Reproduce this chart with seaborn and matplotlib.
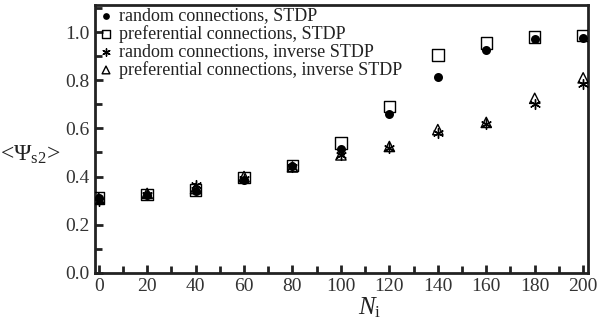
import matplotlib
matplotlib.use("Agg")
import matplotlib.pyplot as plt
import seaborn as sns
import numpy as np
import pandas as pd
from matplotlib.ticker import MultipleLocator, FormatStrFormatter

# data
N_i = [0, 20, 40, 60, 80, 100, 120, 140, 160, 180, 200]
rand_stdp = [0.31, 0.325, 0.34, 0.385, 0.445, 0.515, 0.66, 0.815, 0.925, 0.97, 0.975]
pref_stdp = [0.31, 0.325, 0.345, 0.395, 0.445, 0.54, 0.69, 0.905, 0.955, 0.98, 0.985]
rand_inv = [0.30, 0.325, 0.365, 0.39, 0.44, 0.49, 0.52, 0.58, 0.62, 0.70, 0.785]
pref_inv = [0.31, 0.33, 0.35, 0.40, 0.44, 0.49, 0.525, 0.595, 0.625, 0.725, 0.81]
labels = ["random connections, STDP", "preferential connections, STDP",
          "random connections, inverse STDP", "preferential connections, inverse STDP"]

sns.set_style("ticks")
plt.rcParams["font.family"] = ["Liberation Serif", "DejaVu Serif"]
plt.rcParams["mathtext.fontset"] = "custom"
plt.rcParams["mathtext.rm"] = "Liberation Serif"
plt.rcParams["mathtext.it"] = "Liberation Serif:italic"

fig = plt.figure(figsize=(6, 3.21), dpi=100)
ax = fig.add_axes([0.158, 0.15, 0.822, 0.834])

sns.scatterplot(x=N_i, y=rand_stdp, ax=ax, marker="o", s=42, color="black",
                edgecolor="black", linewidth=0, label=labels[0], zorder=4)
sns.scatterplot(x=N_i, y=pref_stdp, ax=ax, marker="s", s=68, facecolor="none",
                edgecolor="black", linewidth=1.0, label=labels[1], zorder=3)
sns.scatterplot(x=N_i, y=rand_inv, ax=ax, marker=(6, 2, 0), s=50, color="black",
                linewidth=1.0, label=labels[2], zorder=3)
sns.scatterplot(x=N_i, y=pref_inv, ax=ax, marker="^", s=55, facecolor="none",
                edgecolor="black", linewidth=1.0, label=labels[3], zorder=3)

ax.set_xlim(-1.6, 202)
ax.set_ylim(0, 1.112)
ax.xaxis.set_major_locator(MultipleLocator(20))
ax.xaxis.set_minor_locator(MultipleLocator(10))
ax.yaxis.set_major_locator(MultipleLocator(0.2))
ax.yaxis.set_minor_locator(MultipleLocator(0.1))
ax.yaxis.set_major_formatter(FormatStrFormatter("%.1f"))
ax.tick_params(which="both", direction="in", width=2, colors="#222222", labelsize=14,
               labelcolor="#333333", top=False, right=False)
ax.tick_params(which="major", length=6)
ax.tick_params(which="minor", length=5)
for sp in ax.spines.values():
    sp.set_visible(True)
    sp.set_linewidth(2)
    sp.set_color("#222222")

ax.set_xlabel(r"$N_{\mathrm{i}}$", fontsize=18, color="#222222")
ax.xaxis.set_label_coords(0.558, -0.085)
ax.set_ylabel(r"<$\Psi_{\mathrm{s2}}$>", fontsize=17, rotation=0, color="#222222")
ax.yaxis.set_label_coords(-0.13, 0.40)

leg = ax.legend(loc="upper left", frameon=False, fontsize=13, handletextpad=0.2,
                labelspacing=0.03, borderaxespad=0.0, handlelength=1.0,
                borderpad=0.12, markerscale=0.75)
for t in leg.get_texts():
    t.set_color("#222222")

fig.savefig("out.png", dpi=100)
